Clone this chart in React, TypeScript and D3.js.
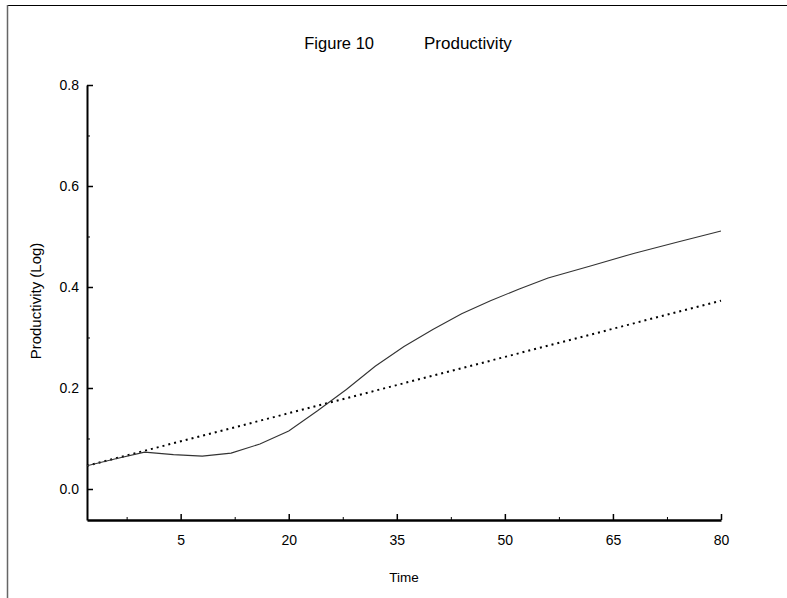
import * as d3 from 'd3';
import React, { useEffect, useRef } from 'react';

// time points and log productivity
const times = [-8, -4, 0, 4, 8, 12, 16, 20, 24, 28, 32, 36, 40, 44, 48, 52, 56, 62, 68, 74, 80];
const actual = [0.046, 0.06, 0.073, 0.068, 0.065, 0.071, 0.089, 0.115, 0.155, 0.197, 0.243, 0.282, 0.316, 0.347, 0.373, 0.396, 0.418, 0.442, 0.467, 0.489, 0.511];
const trendTimes = [-8, 80];
const trend = [0.046, 0.373];
const xTicks = [5, 20, 35, 50, 65, 80];
const xMinor = [-2.5, 12.5, 27.5, 42.5, 57.5, 72.5];
const yTicks = [0, 0.2, 0.4, 0.6, 0.8];
const yMinor = [0.1, 0.3, 0.5, 0.7];

const W = 787;
const H = 598;
const font = 'Liberation Sans, Arial, sans-serif';

const App = () => {
  const ref = useRef<SVGSVGElement>(null);

  useEffect(() => {
    const svg = d3.select(ref.current);
    svg.selectAll('*').remove();

    const x = d3.scaleLinear().domain([-8, 80]).range([87, 721]);
    const y = d3.scaleLinear().domain([-0.0614, 0.8]).range([520, 85]);

    // frame
    svg.append('line')
      .attr('x1', 7).attr('x2', W).attr('y1', 5.5).attr('y2', 5.5)
      .attr('stroke', '#000').attr('stroke-width', 1);
    svg.append('line')
      .attr('x1', 7.5).attr('x2', 7.5).attr('y1', 5).attr('y2', H)
      .attr('stroke', '#666').attr('stroke-width', 1.5);

    // title
    svg.append('text')
      .attr('x', 374).attr('y', 49)
      .attr('text-anchor', 'end')
      .style('font-family', font).style('font-size', '16.5px')
      .text('Figure 10');
    svg.append('text')
      .attr('x', 424).attr('y', 49)
      .style('font-family', font).style('font-size', '17px')
      .text('Productivity');

    // y axis
    const yAxis = d3.axisLeft(y)
      .tickValues(yTicks)
      .tickFormat(d3.format('.1f'))
      .tickSizeInner(-6)
      .tickSizeOuter(0)
      .tickPadding(8);
    const gy = svg.append('g').attr('transform', 'translate(87,0)').call(yAxis);
    gy.select('.domain').attr('stroke-width', 2);
    gy.selectAll('.tick line').attr('stroke-width', 1.5);
    gy.selectAll('text').style('font-family', font).style('font-size', '14px').attr('fill', '#000');

    const gyMinor = svg.append('g').attr('transform', 'translate(87,0)')
      .call(d3.axisLeft(y).tickValues(yMinor).tickSizeInner(-3).tickSizeOuter(0).tickFormat(() => ''));
    gyMinor.select('.domain').remove();

    // x axis
    const xAxis = d3.axisBottom(x)
      .tickValues(xTicks)
      .tickSizeInner(-6)
      .tickSizeOuter(0)
      .tickPadding(15);
    const gx = svg.append('g').attr('transform', 'translate(0,520)').call(xAxis);
    gx.select('.domain').attr('stroke-width', 2.5);
    gx.selectAll('.tick line').attr('stroke-width', 1.5);
    gx.selectAll('text').style('font-family', font).style('font-size', '14px').attr('fill', '#000');

    const gxMinor = svg.append('g').attr('transform', 'translate(0,520)')
      .call(d3.axisBottom(x).tickValues(xMinor).tickSizeInner(-3).tickSizeOuter(0).tickFormat(() => ''));
    gxMinor.select('.domain').remove();

    // axis titles
    svg.append('text')
      .attr('x', 404).attr('y', 582)
      .attr('text-anchor', 'middle')
      .style('font-family', font).style('font-size', '13.5px')
      .text('Time');
    svg.append('text')
      .attr('transform', 'translate(41,301) rotate(-90)')
      .attr('text-anchor', 'middle')
      .style('font-family', font).style('font-size', '15px')
      .text('Productivity (Log)');

    const line = d3.line<[number, number]>()
      .x(d => x(d[0]))
      .y(d => y(d[1]));

    svg.append('path')
      .datum(trendTimes.map((t, i) => [t, trend[i]] as [number, number]))
      .attr('d', line)
      .attr('fill', 'none')
      .attr('stroke', '#000')
      .attr('stroke-width', 2)
      .attr('stroke-dasharray', '2 4');

    svg.append('path')
      .datum(times.map((t, i) => [t, actual[i]] as [number, number]))
      .attr('d', line)
      .attr('fill', 'none')
      .attr('stroke', '#333')
      .attr('stroke-width', 1.1);
  }, []);

  return (
    <svg ref={ref} width={W} height={H}
      style={{ position: 'absolute', left: 0, top: 0, background: '#fff' }}></svg>
  );
};

export default App;
